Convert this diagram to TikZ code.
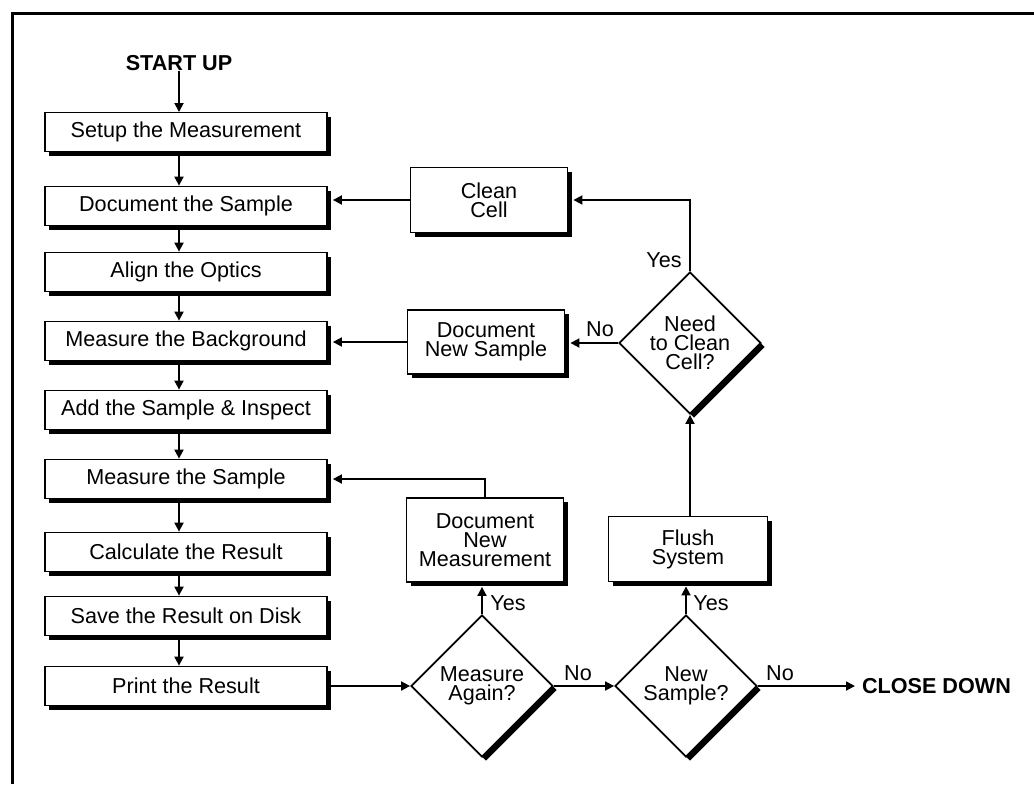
\documentclass[tikz,border=0pt]{standalone}
\usepackage{fontspec}
\setmainfont{Liberation Sans}
\usetikzlibrary{shapes.geometric,arrows.meta,shadows,calc}
\newcommand\flowfont{\fontsize{10.8pt}{9.6pt}\selectfont}
\begin{document}
\begin{tikzpicture}[x=0.5pt,y=-0.5pt,
  boxshadow/.style={drop shadow={shadow xshift=2pt,shadow yshift=-2pt,fill=black,opacity=1}},
  stepbox/.style={draw,line width=0.9pt,fill=white,minimum width=141pt,minimum height=19.5pt,
    inner sep=0pt,font=\flowfont,boxshadow},
  sidebox/.style={draw,line width=0.9pt,fill=white,minimum width=78.5pt,inner sep=0pt,
    align=center,font=\flowfont,boxshadow},
  decision/.style={diamond,draw,line width=0.9pt,fill=white,minimum width=71pt,minimum height=71pt,
    inner sep=0pt,align=center,font=\flowfont,boxshadow},
  flow/.style={line width=0.9pt,-{Triangle[length=4.5pt,width=4.5pt]}},
  lbl/.style={font=\flowfont,inner sep=0pt},
  term/.style={font=\bfseries\flowfont}]
\useasboundingbox (0,0) rectangle (1034,784);
\fill[white] (0,0) rectangle (1034,784);
% outer frame (top and left edges)
\draw[line width=1.5pt] (12,784) -- (12,13) -- (1034,13);

% main sequence
\node[term,inner sep=0pt] (start) at (179,63) {START UP};
\node[stepbox] (setup) at (186,132) {Setup the Measurement};
\node[stepbox] (doc)   at (186,206) {Document the Sample};
\node[stepbox] (align) at (186,272) {Align the Optics};
\node[stepbox] (mbg)   at (186,341) {Measure the Background};
\node[stepbox] (add)   at (186,410) {Add the Sample \& Inspect};
\node[stepbox] (ms)    at (186,479) {Measure the Sample};
\node[stepbox] (calc)  at (186,552) {Calculate the Result};
\node[stepbox] (save)  at (186,616) {Save the Result on Disk};
\node[stepbox] (print) at (186,686) {Print the Result};

% side loop boxes
\node[sidebox,minimum height=32.5pt] (clean) at (489,200) {Clean\\Cell};
\node[sidebox,minimum height=32pt]   (dns)   at (486,342) {Document\\New Sample};
\node[sidebox,minimum height=42pt]   (dnm)   at (485,540) {Document\\New\\Measurement};
\node[sidebox,minimum width=79.5pt,minimum height=32.5pt] (flush) at (688,549) {Flush\\System};

% decisions
\node[decision] (need) at (690,343) {Need\\to Clean\\Cell?};
\node[decision] (ma)   at (482,686) {Measure\\Again?};
\node[decision] (ns)   at (686,686) {New\\Sample?};

\node[term,anchor=west] (close) at (855,686) {CLOSE DOWN};

% main chain arrows
\draw[flow] (start.south -| 179,0) -- (179,112);
\foreach \a/\b in {setup/doc,doc/align,align/mbg,mbg/add,add/ms,ms/calc,calc/save,save/print}
  \draw[flow] ([xshift=-3.5pt]\a.south) -- ([xshift=-3.5pt]\b.north);

% bottom row
\draw[flow] (print.east) -- (ma.west);
\draw[flow] (ma.east) -- (ns.west);
\draw[flow] (ns.east) -- (close.west);
\node[lbl] at (578,673) {No};
\node[lbl] at (780,673) {No};

% measure again loop
\draw[flow] (ma.north) -- ($(ma.north |- dnm.south)+(0,4)$);
\node[lbl] at (508,603) {Yes};
\draw[flow] (dnm.north) |- ($(ms.east)+(5,0)$);

% new sample loop
\draw[flow] (ns.north) -- ($(ns.north |- flush.south)+(0,4)$);
\node[lbl] at (711,603) {Yes};
\draw[flow] (flush.north -| need.south) -- (need.south);
\draw[flow] (need.west) -- ($(need.west -| dns.east)+(5,0)$);
\node[lbl] at (600,329) {No};
\draw[flow] (need.north) |- ($(clean.east)+(5,0)$);
\node[lbl] at (664,260) {Yes};
\draw[flow] (dns.west) -- ($(dns.west -| mbg.east)+(5,0)$);
\draw[flow] (clean.west) -- ($(clean.west -| doc.east)+(5,0)$);
\end{tikzpicture}
\end{document}
